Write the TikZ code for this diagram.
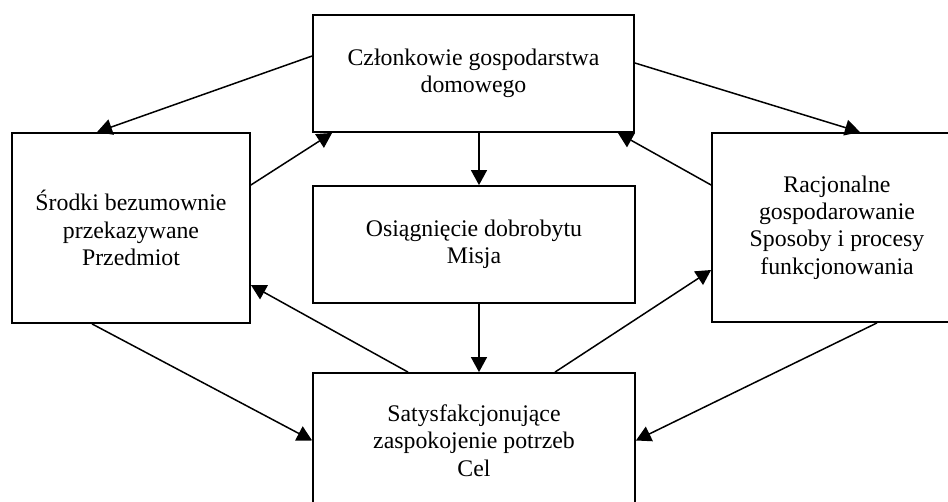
\documentclass[tikz,border=0pt]{standalone}
\usepackage{fontspec}
\setmainfont{Liberation Serif}
\usetikzlibrary{arrows.meta}
\tikzset{
  box/.style={draw, line width=1.8pt, align=center, inner sep=0pt,
    font=\fontsize{23.8}{27.3}\selectfont},
  arr/.style={line width=1.5pt, -{Triangle[length=15pt,width=16pt]}}
}
\begin{document}
\begin{tikzpicture}[x=1pt,y=-1pt]
\useasboundingbox (0,0) rectangle (948,502);
\node[box, minimum width=321pt, minimum height=117pt] (top) at (473.5,73.5) {Członkowie gospodarstwa\\domowego};
\node[box, minimum width=322pt, minimum height=117pt] (mid) at (474,244.5) {Osiągnięcie dobrobytu\\Misja};
\node[box, minimum width=322pt, minimum height=135pt] (bot) at (474,440.5) {Satysfakcjonujące\\zaspokojenie potrzeb\\Cel};
\node[box, minimum width=238pt, minimum height=190pt] (left) at (131,228) {Środki bezumownie\\przekazywane\\Przedmiot};
\node[box, minimum width=250pt, minimum height=189pt] (right) at (837,227.5) {Racjonalne\\gospodarowanie\\Sposoby i procesy\\funkcjonowania};
% arrows
\draw[arr] ([yshift=17.5pt]top.west) -- ([xshift=-34pt]left.north);
\draw[arr] ([yshift=43pt]left.east) -- ([xshift=20pt]top.south west);
\draw[arr] ([xshift=5.5pt]top.south) -- ([xshift=5pt]mid.north);
\draw[arr] ([yshift=10.5pt]top.east) -- ([xshift=23pt]right.north);
\draw[arr] ([yshift=42.5pt]right.west) -- ([xshift=-17pt]top.south east);
\draw[arr] ([xshift=5pt]mid.south) -- ([xshift=5pt]bot.north);
\draw[arr] ([xshift=-66pt]bot.north) -- ([yshift=-57pt]left.east);
\draw[arr] ([xshift=-39pt]left.south) -- (bot.west);
\draw[arr] ([xshift=81pt]bot.north) -- ([yshift=-42.5pt]right.west);
\draw[arr] ([xshift=40pt]right.south) -- (bot.east);
\end{tikzpicture}
\end{document}
